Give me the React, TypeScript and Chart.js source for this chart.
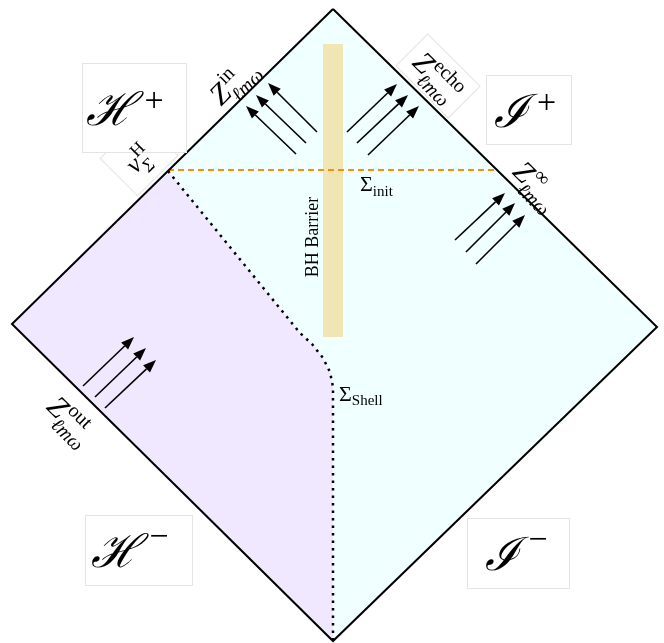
import React, { useEffect, useRef } from "react";
import { Chart, registerables } from "chart.js";
Chart.register(...registerables);

const W = 664;
const H = 643;

// Diamond (top, right, bottom, left, top)
const diamondX = [333, 657, 333, 12, 333];
const diamondY = [9, 327, 641, 324, 9];

// Interior region (left of the shell)
const interiorX = [12, 168, 300, 312, 323, 330, 333, 333, 333, 12];
const interiorY = [324, 171, 333, 344, 358, 372, 387, 400, 641, 324];

// Shell worldline
const shellX = [168, 300, 312, 323, 330, 333, 333, 333];
const shellY = [171, 333, 344, 358, 372, 387, 400, 641];

// Sigma_init slice
const initX = [168, 497];
const initY = [170, 170];

// BH barrier band
const barrierX = [323, 343, 343, 323, 323];
const barrierY = [44, 44, 337, 337, 44];

// Arrows
const arrowTailX = [296, 306, 317, 347, 357, 368, 455, 466, 476, 83, 95, 105];
const arrowTailY = [154, 143, 132, 132, 143, 155, 240, 252, 264, 386, 397, 408];
const arrowHeadX = [246, 256, 268, 397, 408, 419, 505, 515, 525, 134, 146, 156];
const arrowHeadY = [106, 95, 83, 84, 95, 106, 193, 203, 215, 337, 348, 360];

// Boxed labels
const boxLabels = ["\u210B", "\u2110", "\u210B", "\u2110"];
const boxSigns = ["+", "+", "\u2212", "\u2212"];
const boxX0 = [82, 486, 85, 467];
const boxY0 = [63, 75, 515, 518];
const boxX1 = [186, 571, 192, 569];
const boxY1 = [152, 144, 585, 588];

// Edge labels Z^{sup}_{lmw}
const zSup = ["in", "echo", "\u221E", "out"];
const zX = [234, 437, 537, 71];
const zY = [81, 77, 186, 421];
const zAngle = [-45, 45, 45, 45];

const pts = (xs: number[], ys: number[]) => xs.map((x, i) => ({ x, y: ys[i] }));

const SERIF = "'Liberation Serif', 'DejaVu Serif', serif";

function drawZ(ctx: CanvasRenderingContext2D, sup: string, sub: string, main: string, size: number) {
  ctx.font = `italic ${size}px ${SERIF}`;
  const wz = ctx.measureText(main).width;
  const small = Math.round(size * 0.68);
  ctx.font = `${small}px ${SERIF}`;
  const ws = ctx.measureText(sup).width;
  ctx.font = `italic ${small}px ${SERIF}`;
  const wb = ctx.measureText(sub).width;
  const total = wz + Math.max(ws, wb) + 1;
  const x0 = -total / 2;
  const base = size * 0.3;
  ctx.fillStyle = "#000";
  ctx.textBaseline = "alphabetic";
  ctx.textAlign = "left";
  ctx.font = `italic ${size}px ${SERIF}`;
  ctx.fillText(main, x0, base);
  ctx.font = `${small}px ${SERIF}`;
  ctx.fillText(sup, x0 + wz + 1, base - size * 0.42);
  ctx.font = `italic ${small}px ${SERIF}`;
  ctx.fillText(sub, x0 + wz - 1, base + size * 0.32);
}

const decorPlugin = {
  id: "decor",
  afterDatasetsDraw(chart: any) {
    const ctx: CanvasRenderingContext2D = chart.ctx;
    const xs = chart.scales.x;
    const ys = chart.scales.y;
    const px = (v: number) => xs.getPixelForValue(v);
    const py = (v: number) => ys.getPixelForValue(v);
    ctx.save();

    // arrows
    for (let i = 0; i < arrowTailX.length; i++) {
      const x0 = px(arrowTailX[i]), y0 = py(arrowTailY[i]);
      const x1 = px(arrowHeadX[i]), y1 = py(arrowHeadY[i]);
      const a = Math.atan2(y1 - y0, x1 - x0);
      const hl = 13, hw = 5;
      const bx = x1 - hl * Math.cos(a), by = y1 - hl * Math.sin(a);
      ctx.strokeStyle = "#000";
      ctx.lineWidth = 1.6;
      ctx.beginPath();
      ctx.moveTo(x0, y0);
      ctx.lineTo(bx, by);
      ctx.stroke();
      ctx.fillStyle = "#000";
      ctx.beginPath();
      ctx.moveTo(x1, y1);
      ctx.lineTo(bx + hw * Math.sin(a), by - hw * Math.cos(a));
      ctx.lineTo(bx - hw * Math.sin(a), by + hw * Math.cos(a));
      ctx.closePath();
      ctx.fill();
    }

    // rotated white boxes (v_Sigma^H and Z^echo)
    const rbox = (cx: number, cy: number, w: number, h: number, ang: number) => {
      ctx.save();
      ctx.translate(px(cx), py(cy));
      ctx.rotate((ang * Math.PI) / 180);
      ctx.fillStyle = "#fff";
      ctx.fillRect(-w / 2, -h / 2, w, h);
      ctx.strokeStyle = "#e4e4e4";
      ctx.lineWidth = 1;
      ctx.strokeRect(-w / 2, -h / 2, w, h);
      ctx.restore();
    };
    rbox(139, 157, 57, 53, -45);
    rbox(438, 76, 74, 45, 45);

    // axis-aligned boxes
    for (let i = 0; i < boxLabels.length; i++) {
      const x0 = px(boxX0[i]), y0 = py(boxY0[i]);
      const x1 = px(boxX1[i]), y1 = py(boxY1[i]);
      ctx.fillStyle = "#fff";
      ctx.fillRect(x0, y0, x1 - x0, y1 - y0);
      ctx.strokeStyle = "#e4e4e4";
      ctx.lineWidth = 1;
      ctx.strokeRect(x0 + 0.5, y0 + 0.5, x1 - x0, y1 - y0);
      const cy = (y0 + y1) / 2;
      const signX = x0 + (x1 - x0) * 0.6;
      ctx.fillStyle = "#000";
      ctx.textBaseline = "alphabetic";
      ctx.textAlign = "right";
      ctx.font = `italic 46px ${SERIF}`;
      ctx.fillText(boxLabels[i], signX - 9, cy + 17);
      ctx.textAlign = "left";
      ctx.font = `34px ${SERIF}`;
      ctx.fillText(boxSigns[i], signX, cy + (boxSigns[i] === "+" ? 3 : -3));
    }

    // Z labels
    for (let i = 0; i < zSup.length; i++) {
      ctx.save();
      ctx.translate(px(zX[i]), py(zY[i]));
      ctx.rotate((zAngle[i] * Math.PI) / 180);
      drawZ(ctx, zSup[i], "\u2113m\u03C9", "Z", 30);
      ctx.restore();
    }
    // v_Sigma^H
    ctx.save();
    ctx.translate(px(139), py(160));
    ctx.rotate(-Math.PI / 4);
    drawZ(ctx, "H", "\u03A3", "v", 26);
    ctx.restore();

    // Sigma labels
    ctx.fillStyle = "#000";
    ctx.textAlign = "left";
    ctx.font = `22px ${SERIF}`;
    const sw = ctx.measureText("\u03A3").width;
    ctx.fillText("\u03A3", px(360), py(191));
    ctx.fillText("\u03A3", px(339), py(401));
    ctx.font = `15px ${SERIF}`;
    ctx.fillText("init", px(360) + sw, py(196));
    ctx.fillText("Shell", px(339) + sw, py(405));

    // BH Barrier
    ctx.save();
    ctx.translate(px(318), py(237));
    ctx.rotate(-Math.PI / 2);
    ctx.textAlign = "center";
    ctx.font = `18px ${SERIF}`;
    ctx.fillText("BH Barrier", 0, 0);
    ctx.restore();

    ctx.restore();
  },
};

export default function App() {
  const ref = useRef<HTMLCanvasElement>(null);
  useEffect(() => {
    if (!ref.current) return;
    const chart = new Chart(ref.current, {
      type: "scatter",
      data: {
        datasets: [
          {
            data: pts(diamondX, diamondY),
            showLine: true,
            fill: "shape",
            backgroundColor: "#f0ffff",
            borderColor: "rgba(0,0,0,0)",
            borderWidth: 0,
            pointRadius: 0,
            order: 10,
          },
          {
            data: pts(interiorX, interiorY),
            showLine: true,
            fill: "shape",
            backgroundColor: "#f0e8ff",
            borderColor: "rgba(0,0,0,0)",
            borderWidth: 0,
            pointRadius: 0,
            order: 9,
          },
          {
            data: pts(barrierX, barrierY),
            showLine: true,
            fill: "shape",
            backgroundColor: "#f0e6b4",
            borderColor: "rgba(0,0,0,0)",
            borderWidth: 0,
            pointRadius: 0,
            order: 8,
          },
          {
            data: pts(shellX, shellY),
            showLine: true,
            borderColor: "#000",
            borderWidth: 2.5,
            borderDash: [2.5, 5],
            pointRadius: 0,
            order: 7,
          },
          {
            data: pts(initX, initY),
            showLine: true,
            borderColor: "#ff8c00",
            borderWidth: 2,
            borderDash: [6, 4],
            pointRadius: 0,
            order: 6,
          },
          {
            data: pts(diamondX, diamondY),
            showLine: true,
            borderColor: "#000",
            borderWidth: 2,
            borderJoinStyle: "miter",
            pointRadius: 0,
            order: 5,
          },
        ] as any,
      },
      options: {
        animation: false,
        responsive: false,
        layout: { padding: 0 },
        plugins: { legend: { display: false }, tooltip: { enabled: false } },
        scales: {
          x: { type: "linear", min: 0, max: W, display: false },
          y: { type: "linear", min: 0, max: H, reverse: true, display: false },
        },
      } as any,
      plugins: [decorPlugin],
    });
    return () => chart.destroy();
  }, []);
  return (
    <div style={{ position: "fixed", left: 0, top: 0, width: W, height: H, background: "#fff" }}>
      <canvas ref={ref} width={W} height={H} style={{ width: W, height: H, display: "block" }} />
    </div>
  );
}
